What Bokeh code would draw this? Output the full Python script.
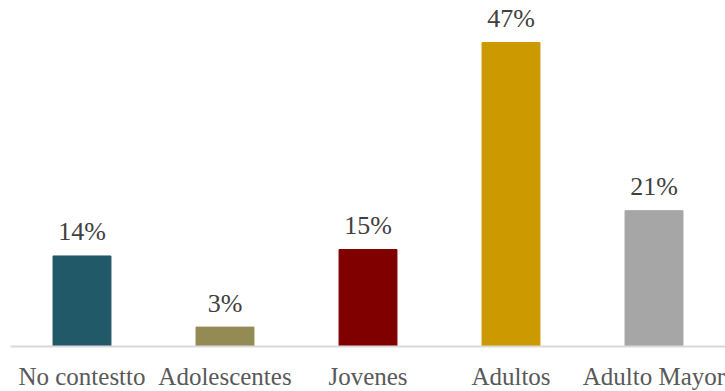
from bokeh.plotting import figure
from bokeh.models import ColumnDataSource, Range1d
from bokeh.core.properties import value
from bokeh.embed import file_html
from bokeh.resources import INLINE

categories = ["No contestto", "Adolescentes", "Jovenes", "Adultos", "Adulto Mayor"]
values = [14, 3, 15, 47, 21]
labels = ["14%", "3%", "15%", "47%", "21%"]
colors = ["#215968", "#948A54", "#800000", "#CC9900", "#A6A6A6"]

src = ColumnDataSource(dict(cat=categories, val=values, lab=labels, col=colors))

FONT = "Liberation Serif"

p = figure(x_range=categories, frame_width=715, frame_height=346, output_backend="svg",
           toolbar_location=None, min_border_left=10, min_border_right=0,
           min_border_top=0, min_border_bottom=0)
p.y_range = Range1d(0, 53.5)

p.vbar(x="cat", top="val", width=0.405, color="col", source=src)
p.text(x="cat", y="val", text="lab", source=src, text_align="center",
       text_baseline="alphabetic", y_offset=-24, text_font=value(FONT),
       text_font_size="26px", text_color="#404040")

p.yaxis.visible = False
p.xgrid.visible = False
p.ygrid.visible = False
p.outline_line_color = None
p.xaxis.axis_line_color = "#D9D9D9"
p.xaxis.axis_line_width = 2
p.xaxis.major_tick_line_color = None
p.xaxis.minor_tick_line_color = None
p.xaxis.major_label_text_font = FONT
p.xaxis.major_label_text_font_size = "25px"
p.xaxis.major_label_text_color = "#595959"
p.xaxis.major_label_standoff = 10

open("out.html", "w").write(file_html(p, INLINE))
